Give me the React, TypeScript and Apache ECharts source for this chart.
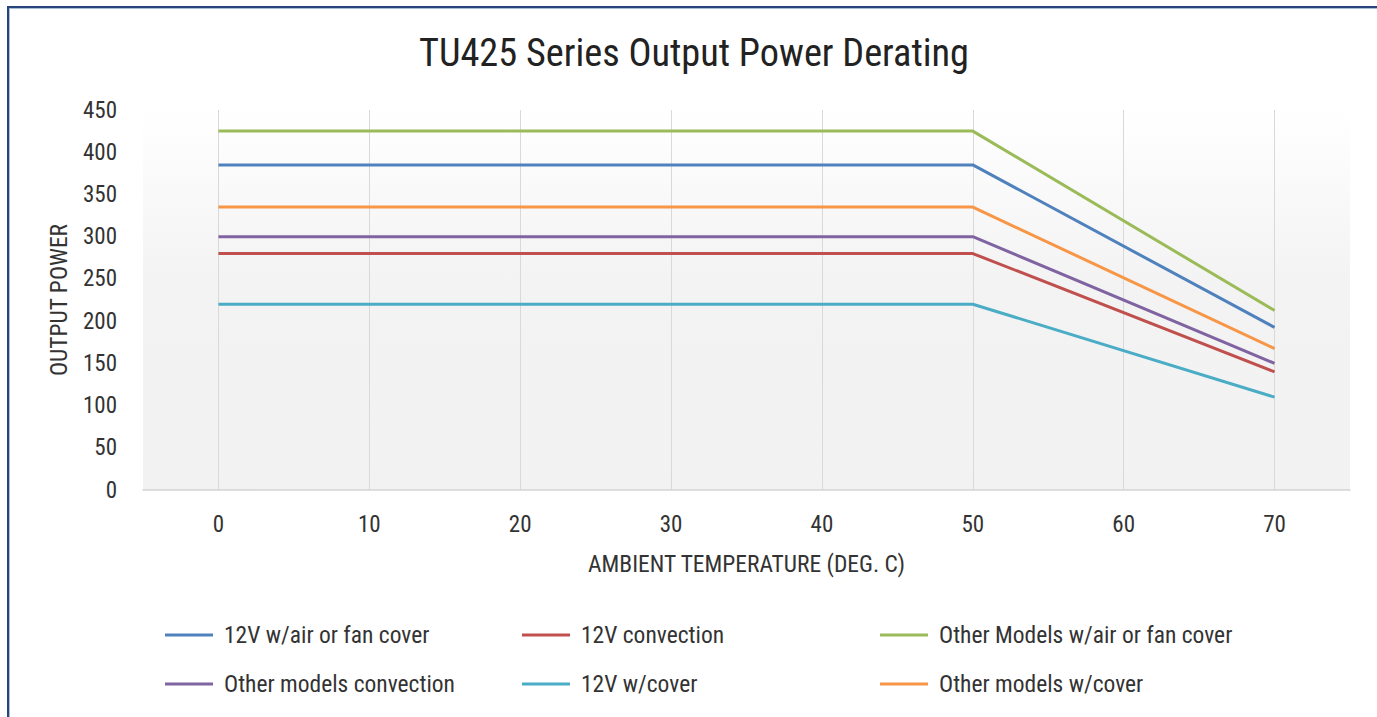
import React, { useEffect, useRef } from "react";
import * as echarts from "echarts";

const temps = [0, 50, 70];
const xTicks = [0, 10, 20, 30, 40, 50, 60, 70];
const seriesNames = [
  "12V w/air or fan cover",
  "12V convection",
  "Other Models w/air or fan cover",
  "Other models convection",
  "12V w/cover",
  "Other models w/cover",
];
const v12Air = [385, 385, 192.5];
const v12Conv = [280, 280, 140];
const vOtherAir = [425, 425, 212.5];
const vOtherConv = [300, 300, 150];
const v12Cover = [220, 220, 110];
const vOtherCover = [335, 335, 167.5];
const seriesValues = [v12Air, v12Conv, vOtherAir, vOtherConv, v12Cover, vOtherCover];
const colors = ["#4F81BD", "#C0504D", "#9BBB59", "#8064A2", "#4BACC6", "#F79646"];

const FONT = "'Roboto Condensed','Liberation Sans Narrow','DejaVu Sans Condensed','Arial Narrow',Roboto,sans-serif";

export default function App() {
  const ref = useRef<HTMLDivElement>(null);
  useEffect(() => {
    if (!ref.current) return;
    const chart = echarts.init(ref.current, null, { renderer: "svg" });
    const legendCol = (names: string[], left: number) => ({
      orient: "vertical",
      left,
      top: 623,
      padding: 0,
      itemGap: 25,
      itemWidth: 48,
      itemHeight: 3,
      icon: "rect",
      data: names,
      textStyle: { fontFamily: FONT, fontSize: 23.5, color: "#333", lineHeight: 24, padding: [0, 0, 0, 6] },
    });
    chart.setOption({
      animation: false,
      color: colors,
      textStyle: { fontFamily: FONT },
      title: {
        text: "TU425 Series Output Power Derating",
        left: 414,
        top: 28,
        textStyle: { fontFamily: FONT, fontSize: 38.3, fontWeight: "normal", color: "#222" },
      },
      legend: [
        legendCol([seriesNames[0], seriesNames[3]], 165),
        legendCol([seriesNames[1], seriesNames[4]], 522),
        legendCol([seriesNames[2], seriesNames[5]], 880),
      ],
      grid: {
        left: 143,
        right: 27,
        top: 110,
        bottom: 227,
        show: true,
        borderWidth: 0,
        backgroundColor: new echarts.graphic.LinearGradient(0, 0, 0, 1, [
          { offset: 0, color: "#ffffff" },
          { offset: 0.45, color: "#f3f3f3" },
          { offset: 1, color: "#f2f2f2" },
        ]),
      },
      xAxis: {
        type: "value",
        min: -5,
        max: 75,
        name: "AMBIENT TEMPERATURE (DEG. C)",
        nameLocation: "middle",
        nameGap: 62,
        nameTextStyle: { fontFamily: FONT, fontSize: 23.5, color: "#333" },
        axisLine: { show: true, lineStyle: { color: "#d4d4d4", width: 1.5 } },
        axisTick: { show: false, customValues: xTicks },
        axisLabel: { customValues: xTicks, fontFamily: FONT, fontSize: 23, color: "#333", margin: 23 },
        splitLine: { show: true, lineStyle: { color: "#d9d9d9", width: 1 } },
      },
      yAxis: {
        type: "value",
        min: 0,
        max: 450,
        interval: 50,
        name: "OUTPUT POWER",
        nameLocation: "middle",
        nameGap: 72,
        nameTextStyle: { fontFamily: FONT, fontSize: 23.5, color: "#333" },
        axisLine: { show: false },
        axisTick: { show: false },
        axisLabel: { fontFamily: FONT, fontSize: 23, color: "#333", margin: 26 },
        splitLine: { show: false },
      },
      series: seriesNames.map((name, i) => ({
        name,
        type: "line",
        data: temps.map((t, j) => [t, seriesValues[i][j]]),
        showSymbol: false,
        symbol: "none",
        lineStyle: { width: 3, color: colors[i] },
        itemStyle: { color: colors[i] },
      })),
    });
    return () => chart.dispose();
  }, []);
  return (
    <div style={{ position: "fixed", left: 0, top: 0, width: 1377, height: 717, background: "#fff" }}>
      <div
        style={{
          position: "absolute",
          left: 7,
          top: 6,
          right: -20,
          bottom: -20,
          borderTop: "2px solid #27457a",
          borderLeft: "2px solid #27457a",
          boxShadow: "inset 1px 1px 0 #a9bcd8",
        }}
      />
      <div ref={ref} style={{ position: "absolute", left: 0, top: 0, width: 1377, height: 717 }} />
    </div>
  );
}
